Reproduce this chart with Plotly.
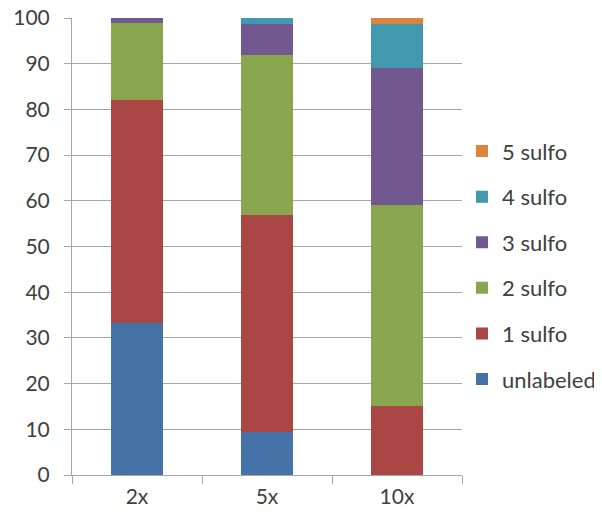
import plotly.graph_objects as go

categories = ["2x", "5x", "10x"]
series_names = ["unlabeled", "1 sulfo", "2 sulfo", "3 sulfo", "4 sulfo", "5 sulfo"]
unlabeled = [33.2, 9.4, 0]
sulfo1 = [48.9, 47.6, 15.0]
sulfo2 = [16.7, 35.0, 44.0]
sulfo3 = [1.2, 6.6, 30.0]
sulfo4 = [0, 1.4, 9.6]
sulfo5 = [0, 0, 1.4]
colors = ["#4572A7", "#AA4643", "#89A54E", "#71588F", "#4198AF", "#DB843D"]

values = [unlabeled, sulfo1, sulfo2, sulfo3, sulfo4, sulfo5]

fig = go.Figure()
n = len(series_names)
for i, (name, vals, c) in enumerate(zip(series_names, values, colors)):
    fig.add_trace(go.Bar(x=categories, y=vals, name=name, marker_color=c,
                         marker_line_width=0, legendgroup=name,
                         legendrank=n - i))

font = dict(family="Lato, Open Sans, sans-serif", size=21, color="#404040")
fig.update_layout(
    barmode="stack",
    width=594, height=509,
    margin=dict(l=64, r=140, t=10, b=42, autoexpand=False),
    plot_bgcolor="white", paper_bgcolor="white",
    bargap=0.6,
    font=font,
    legend=dict(traceorder="grouped", tracegroupgap=14,
                x=1.0, xanchor="left", y=0.459, yanchor="middle",
                font=dict(size=22, color="#404040"), itemwidth=30),
    showlegend=True,
)
fig.update_yaxes(range=[0, 100], dtick=10, showgrid=True, gridcolor="#a6a6a6",
                 gridwidth=1, showline=True, linecolor="#a6a6a6", ticks="outside",
                 ticklen=7, tickcolor="#a6a6a6", zeroline=False,
                 ticklabelstandoff=10, ticklabeloverflow="allow",
                 tickfont=dict(size=21, color="#404040"))
fig.update_xaxes(showline=True, linecolor="#a6a6a6", ticks="outside",
                 tickson="boundaries", ticklen=8, tickcolor="#a6a6a6",
                 ticklabelstandoff=3, ticklabeloverflow="allow",
                 tickfont=dict(size=21, color="#404040"))

fig.write_html("out.html")
